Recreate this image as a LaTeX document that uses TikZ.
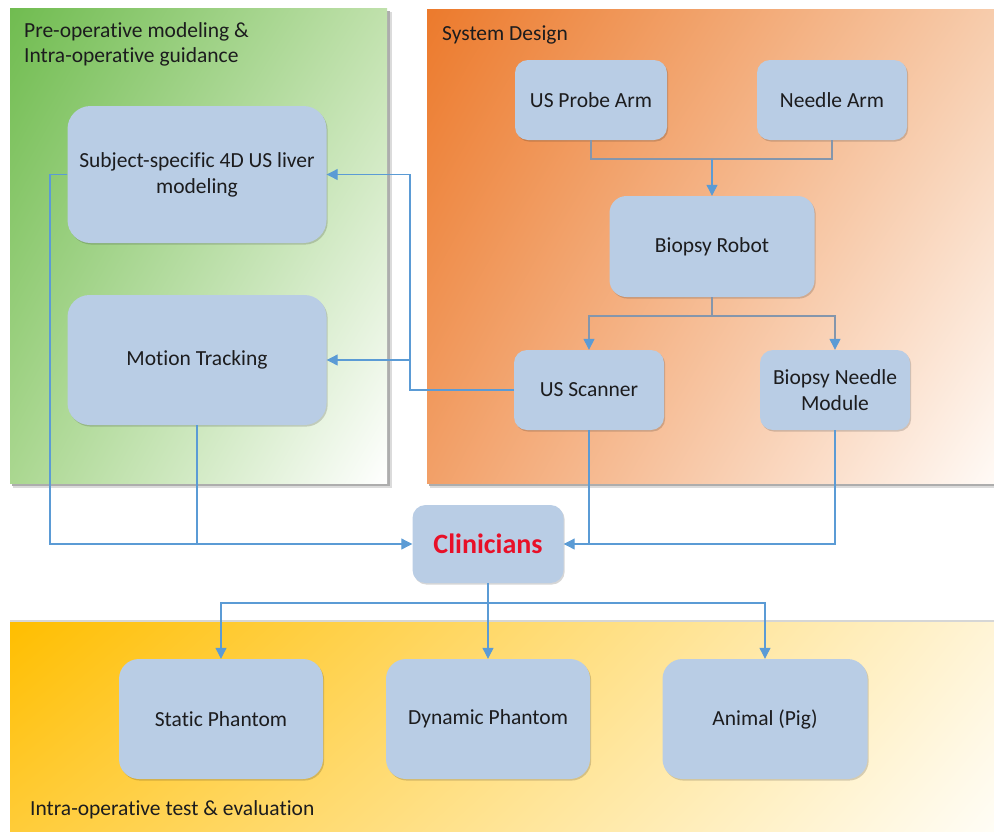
\documentclass[tikz,border=0pt]{standalone}
\usepackage{fontspec}
\setmainfont{Carlito}[Ligatures={NoCommon}]
\usetikzlibrary{arrows.meta,shadings,shadows,calc}

\definecolor{boxblue}{RGB}{185,205,229}
\definecolor{txt}{RGB}{28,28,30}
\definecolor{lineblue}{RGB}{91,155,213}
\definecolor{lineslate}{RGB}{132,150,172}
\definecolor{clinred}{RGB}{232,16,40}
% panel gradient corners
\definecolor{gUL}{RGB}{112,188,80}
\definecolor{gUR}{RGB}{192,225,172}
\definecolor{gLL}{RGB}{170,215,144}
\definecolor{gLR}{RGB}{255,255,255}
\definecolor{oUL}{RGB}{236,122,44}
\definecolor{oUR}{RGB}{247,204,172}
\definecolor{oLL}{RGB}{242,160,104}
\definecolor{oLR}{RGB}{255,250,246}
\definecolor{yUL}{RGB}{255,190,0}
\definecolor{yUR}{RGB}{255,244,214}
\definecolor{yLL}{RGB}{255,204,56}
\definecolor{yLR}{RGB}{255,253,246}

\tikzset{
  blk/.style n args={3}{
    fill=boxblue, text=txt, align=center, inner sep=0pt,
    minimum width=#1, minimum height=#2, rounded corners=#3,
    font=\fontsize{21.5}{26}\selectfont,
    drop shadow={shadow xshift=1.2pt, shadow yshift=-1.6pt,
      opacity=0.16, fill=black}},
  paneltitle/.style={anchor=base west, inner sep=0pt, text=txt,
    align=left, font=\fontsize{21.5}{24.5}\selectfont},
  wire/.style={draw=lineblue, line width=1.1pt},
  slate/.style={draw=lineslate, line width=1.3pt},
  tip/.style={-{Triangle[length=11pt, width=11pt, color=lineblue]}},
}

\begin{document}
\begin{tikzpicture}[x=1pt, y=-1pt]
\useasboundingbox (0,0) rectangle (994,831);

% ---- background panels ----
% pre-operative panel (with shadow)
\fill[black!14] (13,12) rectangle (392,488);
\fill[black!32] (12,11) rectangle (390,486);
\shade[upper left=gUL, upper right=gUR, lower left=gLL, lower right=gLR]
  (10,8) rectangle (387,483);
% system design panel
\fill[black!14] (430,12) rectangle (994,488);
\fill[black!32] (429,11) rectangle (994,486);
\shade[upper left=oUL, upper right=oUR, lower left=oLL, lower right=oLR]
  (427,9) rectangle (994,483);
% test & evaluation panel
\fill[black!16] (10,620) rectangle (994,623);
\shade[upper left=yUL, upper right=yUR, lower left=yLL, lower right=yLR]
  (10,622) rectangle (994,831);

% ---- panel titles (base anchor sits on the last line) ----
\node[paneltitle] (tpre) at (24,62) {Pre-operative modeling \&\\Intra-operative guidance};
\node[paneltitle] (tsys) at (442,40) {System Design};
\node[paneltitle] (ttest) at (30,815) {Intra-operative test \& evaluation};

% ---- blocks ----
\node[blk={259pt}{137pt}{23pt}] (subj)   at (197,174.5) {Subject-specific 4D US liver\\modeling};
\node[blk={259pt}{130pt}{22pt}] (motion) at (197,360)   {Motion Tracking};
\node[blk={152pt}{80pt}{13pt}]  (probe)  at (591,100)   {US Probe Arm};
\node[blk={150pt}{80pt}{13pt}]  (narm)   at (832,100)   {Needle Arm};
\node[blk={205pt}{101pt}{17pt}] (robot)  at (712,246.5) {Biopsy Robot};
\node[blk={150pt}{80pt}{13pt}]  (scan)   at (589,390)   {US Scanner};
\node[blk={150pt}{80pt}{13pt}]  (needle) at (835,390)   {Biopsy Needle\\Module};
\node[blk={151pt}{78pt}{13pt}, text=clinred,
      font=\fontsize{28}{32}\selectfont\bfseries] (clin) at (488,544) {Clinicians};
\node[blk={204pt}{120pt}{20pt}] (static)  at (221,719)   {Static Phantom};
\node[blk={204pt}{120pt}{20pt}] (dynamic) at (488,719)   {Dynamic Phantom};
\node[blk={205pt}{120pt}{20pt}] (animal)  at (765,719)   {Animal (Pig)};

% ---- helper points ----
\coordinate (jt) at (712,159);
\coordinate (jb) at (712,316);
\coordinate (vx) at (410,0);
\coordinate (lx) at (50,0);
\coordinate (cb) at (488,603);

% ---- connectors ----
% arms merge into the robot
\draw[slate] (probe.south) |- (jt) -| (narm.south);
\draw[wire, tip] (jt) -- (robot.north);
% robot splits to scanner and needle module
\draw[slate] (robot.south) -- (jb);
\draw[slate, tip] (jb) -| (scan.north);
\draw[slate, tip] (jb) -| (needle.north);
% scanner feeds modeling and tracking
\draw[wire, tip] (scan.west) -- (scan.west -| vx) |- (subj.east);
\draw[wire, tip] (motion.east -| vx) -- (motion.east);
% everything reaches the clinicians
\draw[wire, tip] (subj.west) -- (subj.west -| lx) |- (clin.west);
\draw[wire] (motion.south) -- (motion.south |- clin.west);
\draw[wire, tip] (needle.south) |- (clin.east);
\draw[wire] (scan.south) -- (scan.south |- clin.east);
% clinicians to the test setups
\draw[wire] (clin.south) -- (cb);
\draw[wire, tip] (cb) -| (static.north);
\draw[wire, tip] (cb) -| (animal.north);
\draw[wire, tip] (cb) -- (dynamic.north);
\end{tikzpicture}
\end{document}
